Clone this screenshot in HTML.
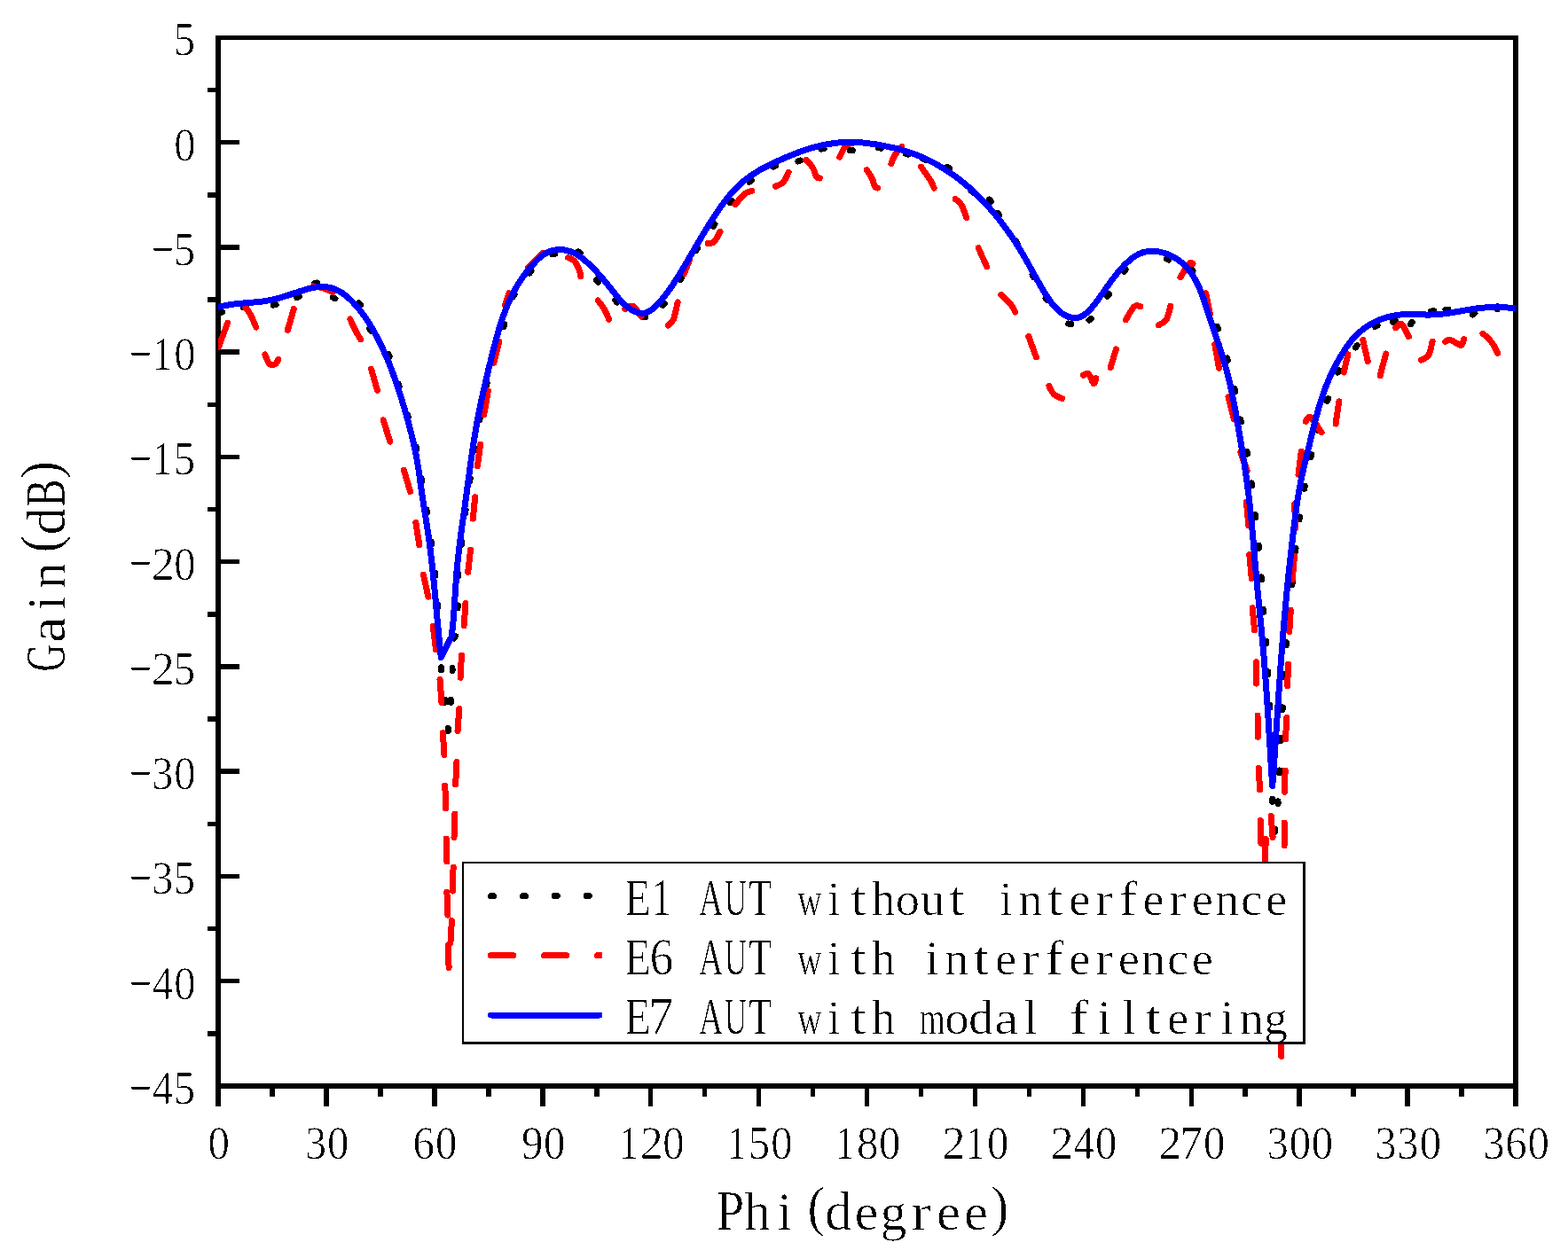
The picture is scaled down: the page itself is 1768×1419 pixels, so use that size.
<!DOCTYPE html>
<html lang="en">
<head>
<meta charset="utf-8">
<title>Gain(dB) vs Phi(degree)</title>
<style>
html,body{margin:0;padding:0;background:#fff;overflow:hidden}
svg{display:block}
text{white-space:pre}
</style>
</head>
<body>
<svg width="1768" height="1419" viewBox="0 0 1768 1419" font-family="'Liberation Serif', 'Noto Serif CJK SC', serif" fill="#000">
<rect width="1768" height="1419" fill="#fff"/>
<filter id="bin" x="-0.05" y="-0.2" width="1.1" height="1.4" color-interpolation-filters="sRGB"><feComponentTransfer><feFuncR type="discrete" tableValues="0 0 1"/><feFuncG type="discrete" tableValues="0 0 1"/><feFuncB type="discrete" tableValues="0 0 1"/></feComponentTransfer></filter>
<g shape-rendering="crispEdges">
<rect x="243" y="40" width="6" height="1208"/>
<rect x="1706" y="40" width="6" height="1208"/>
<rect x="243" y="40" width="1469" height="5"/>
<rect x="243" y="1222" width="1469" height="6"/>
<rect x="304" y="1228" width="6" height="9"/>
<rect x="365" y="1228" width="6" height="20"/>
<rect x="426" y="1228" width="6" height="9"/>
<rect x="487" y="1228" width="6" height="20"/>
<rect x="548" y="1228" width="6" height="9"/>
<rect x="609" y="1228" width="6" height="20"/>
<rect x="670" y="1228" width="6" height="9"/>
<rect x="731" y="1228" width="5" height="20"/>
<rect x="792" y="1228" width="5" height="9"/>
<rect x="853" y="1228" width="5" height="20"/>
<rect x="914" y="1228" width="5" height="9"/>
<rect x="975" y="1228" width="5" height="20"/>
<rect x="1036" y="1228" width="5" height="9"/>
<rect x="1097" y="1228" width="5" height="20"/>
<rect x="1158" y="1228" width="5" height="9"/>
<rect x="1219" y="1228" width="5" height="20"/>
<rect x="1280" y="1228" width="5" height="9"/>
<rect x="1341" y="1228" width="5" height="20"/>
<rect x="1401" y="1228" width="6" height="9"/>
<rect x="1462" y="1228" width="6" height="20"/>
<rect x="1523" y="1228" width="6" height="9"/>
<rect x="1584" y="1228" width="6" height="20"/>
<rect x="1645" y="1228" width="6" height="9"/>
<rect x="234" y="99" width="9" height="5"/>
<rect x="249" y="158" width="21" height="5"/>
<rect x="234" y="217" width="9" height="6"/>
<rect x="249" y="276" width="21" height="6"/>
<rect x="234" y="335" width="9" height="6"/>
<rect x="249" y="394" width="21" height="6"/>
<rect x="234" y="454" width="9" height="5"/>
<rect x="249" y="513" width="21" height="5"/>
<rect x="234" y="572" width="9" height="5"/>
<rect x="249" y="631" width="21" height="5"/>
<rect x="234" y="690" width="9" height="6"/>
<rect x="249" y="749" width="21" height="6"/>
<rect x="234" y="808" width="9" height="6"/>
<rect x="249" y="867" width="21" height="6"/>
<rect x="234" y="927" width="9" height="5"/>
<rect x="249" y="986" width="21" height="5"/>
<rect x="234" y="1045" width="9" height="5"/>
<rect x="249" y="1104" width="21" height="5"/>
<rect x="234" y="1163" width="9" height="6"/>
</g>
<clipPath id="plotclip"><rect x="246" y="40" width="1463.5" height="1188"/></clipPath>
<g clip-path="url(#plotclip)" fill="none" stroke-linecap="round" stroke-linejoin="round" stroke-width="7" shape-rendering="crispEdges">
<path stroke="#000" d="M247.8 352.7 L250.8 351.9 M274.5 346.7 L277.5 346.5 M308.1 344.1 L311.1 343.5 M334.5 335.8 L337.3 334.8 M354.7 319.4 L357.7 319 M375.3 335.5 L377.9 336.9 M404.4 341.9 L406.4 344.1 M416.5 370.5 L418.1 373.1 M437.9 399.3 L439.1 402.1 M449.2 433 L450.2 435.8 M459.5 467.8 L460.3 470.7 M467.8 503.8 L468.5 506.8 M469.1 504 L469.7 507 M475.2 539.6 L475.6 542.6 M481.1 575.3 L481.5 578.2 M486.2 611 L486.6 614 M490.5 646.1 L490.8 649.1 M493.7 681.8 L494 684.8 M512.1 720 L513.5 717.4 M497.6 752.8 L497.6 755.8 M510 753.6 L510 756.6 M501.8 789.3 L501.8 792.3 M508.3 789.3 L508.3 792.3 M505.2 821.5 L505.2 824.5 M516.4 683 L516 686 M516.5 650.2 L516.7 647.2 M520.2 614.5 L520.6 611.5 M524.7 578.4 L525.1 575.5 M529.8 542.8 L530.2 539.8 M534.4 508.2 L534.8 505.3 M541 473.2 L541.5 470.3 M548.5 435 L549.2 432.1 M567.9 368.5 L568.9 365.7 M578.7 334.5 L580.1 331.9 M597.2 308 L599 305.6 M622.9 286.8 L625.9 286.2 M651.9 284 L654.5 285.6 M672.6 315.9 L674.6 318.1 M693.8 338.8 L695.8 341 M724.7 357.9 L727.7 357.7 M747.2 344.4 L749.2 342.2 M767 315.8 L768.6 313.2 M784.8 282.7 L786.4 280.1 M804.3 255.5 L805.9 252.9 M823.2 228.5 L825 226.1 M845 205.3 L847.4 203.5 M871.9 188.1 L874.7 186.7 M899.9 182 L902.7 181 M926.1 168.2 L929.1 167.6 M958.4 169.6 L961.4 169.6 M990.6 166.7 L993.6 167.3 M1021.3 173.4 L1024.1 174.2 M1040.8 179.2 L1043.6 180.4 M1068 188.3 L1070.6 189.9 M1094.9 215 L1097.1 217 M1115.4 225.1 L1117.4 227.3 M1124.8 240.3 L1126.6 242.7 M1145.3 271.5 L1146.9 274.1 M1164.1 310 L1165.5 312.6 M1179.1 336.3 L1180.9 338.7 M1204.8 365 L1207.8 365.6 M1228 361.1 L1230.4 359.3 M1248.7 334.3 L1250.5 331.9 M1267.2 306.2 L1269.2 304 M1287.2 285.1 L1290 284.3 M1315.2 291.8 L1318 293 M1343.2 303.1 L1345 305.5 M1372.5 368.2 L1373.5 371 M1383.6 403.9 L1384.4 406.7 M1392.2 438.6 L1392.8 441.6 M1398.7 473 L1399.3 476 M1406 509.2 L1406.4 512.2 M1411.1 544.9 L1411.5 547.9 M1415.4 580.5 L1415.6 583.5 M1419.3 615.3 L1419.5 618.3 M1422.2 650.9 L1422.4 653.9 M1424.4 687.4 L1424.6 690.4 M1427.3 723.1 L1427.5 726.1 M1429.8 757.9 L1430 760.9 M1431.5 795.2 L1431.7 798.2 M1434.1 830.9 L1434.3 833.9 M1450.2 727.8 L1450.4 724.8 M1447.1 763.5 L1447.3 760.5 M1446 800.8 L1446.2 797.8 M1443.7 835.6 L1443.9 832.6 M1442.6 872 L1442.8 869 M1434.7 901.3 L1434.7 904.3 M1441 903.8 L1441 906.8 M1437.6 935.2 L1437.6 938.2 M1456.9 659.9 L1457.3 656.9 M1460.6 621.7 L1461 618.7 M1465 586 L1465.4 583 M1470.7 551.3 L1471.3 548.3 M1477.9 515.6 L1478.7 512.6 M1484.7 485.1 L1485.5 482.1 M1496.5 452.4 L1497.5 449.6 M1508.3 420.1 L1509.7 417.5 M1528.5 392 L1530.3 389.6 M1550.5 368.6 L1553.1 367.2 M1570.7 363.1 L1573.7 362.5 M1590.5 365.7 L1592.3 363.3 M1613.8 351 L1616.8 350.8 M1629.9 349.4 L1632.9 349 M1660.5 354.9 L1662.9 353.1 M1688.3 345.8 L1688.3 348.8"/>
<path stroke="#f00" d="M246.5 391.3 L256.6 364.2 M276.5 346.4 L277.5 347.7 L279 349.6 L280.7 352 L282.4 354.8 L284.2 358.5 L286.2 363 L288 367.2 L288.8 369.2 M298.9 399.9 L299.5 401.6 L300.4 404 L301.5 406.5 L302.5 408.5 L303.5 409.8 L304.6 410.7 L305.7 411.3 L306.8 411.6 L307.9 411.6 L309.1 411.3 L310.2 410.7 L311.2 410 L312 409 L312.8 407.6 L313.4 406.3 L313.8 405.4 M324.3 372.5 L331.3 348.2 M353.5 322.9 L354.6 323.1 L357.5 323.5 L360.8 324 L364 324.8 L367.2 326 L370.7 327.6 L373.8 329.2 L375.1 329.8 M394.8 360 L395.6 361.8 L397.4 365.7 L399.4 369.9 L401.2 373.5 L402.9 376.6 L404.6 379.5 L406.1 382 L406.6 382.8 M418.5 416.1 L425.5 440.4 M432.1 473.8 L439.9 498.1 M455.4 530.2 L462.5 554.5 M468.9 589.6 L472.8 614.8 M477.4 648.1 L482.9 673.3 M488.3 706.4 L491.5 732.9 M496 766.3 L498 792.3 M499.4 826.6 L500.9 851.7 M501.8 886 L502.7 912 M503.2 946 L503.9 972 M503.9 1006.2 L504.9 1032.2 M505.2 1066.5 L506.1 1091.6 M509.4 1038.5 L507.9 1063.6 M511.1 978.2 L510.3 1005.1 M512.8 918 L512 944.8 M514.9 859.7 L513.7 884.8 M517.8 799.4 L516 824.6 M520.4 739.2 L519.2 764.3 M525 680.4 L523.1 705.8 M530.6 620.1 L527.7 645.3 M535.7 560.8 L533.3 585.1 M541.6 501.4 L538.4 525.7 M550.3 441 L545.7 468 M563 385.1 L556.8 409.4 M574 330.7 L569.5 344.1 M611.8 285.5 L595.4 301.9 M640.5 290.7 L641.8 291.2 L643.6 291.9 L645.6 292.8 L647.3 294.1 L648.8 295.8 L650.1 298 L651.3 300.3 L652.4 302.6 L653.3 305.1 L654 307.8 L654.5 310.2 L654.9 311.9 M674.2 339 L675 340 L677 342.5 L679.2 345.4 L681.2 348.4 L682.9 351.7 L684.6 355.4 L686.1 358.8 L686.7 360.2 M704.9 348.7 L705.8 348.1 L708.1 346.4 L710.8 345 L713.4 345 L716.1 347.3 L719.1 351.1 L721.7 355.1 L723 357 M764.2 340.9 L763.5 343.9 L762.2 349.7 L760.8 355.7 L759.3 360.3 L757.7 363.1 L756 365 L754.4 366.2 L753.3 367.1 M777.5 293.3 L771.5 308.5 M811.9 261.6 L811.1 263.1 L809.3 266.5 L807.2 270 L805.3 272.6 L803.3 273.9 L801.3 274.4 L799.4 274.6 L798.1 274.7 M847.9 215.4 L846.4 215.8 L844.3 216.3 L841.9 217.2 L839.4 218.8 L836.6 221.6 L833.4 225.4 L830.4 229 L829 230.7 M889.1 194.2 L888.5 195.6 L887.1 198.9 L885.4 202.4 L883.5 205.2 L881.2 207.1 L878.5 208.5 L875.9 209.5 L874.2 210.3 M908.8 180.5 L909.5 181.2 L911.6 183.3 L913.9 185.7 L915.8 188.2 L917.3 191 L918.6 194.2 L919.7 197.1 L920.8 199.3 L921.8 200.4 L922.8 200.8 L923.6 200.9 L924.2 201 M946.7 177.2 L947.5 175.6 L949.2 172 L951.1 168.3 L953 165.5 L954.8 163.8 L956.6 162.8 L958.3 162.1 L960 161.5 L961.6 161.1 L963.2 160.9 L964.5 160.8 L965.5 160.8 M977.3 191.6 L978.1 192.8 L980 195.8 L982 199 L983.6 201.8 L984.5 204.3 L985.1 206.6 L985.6 208.7 L986.2 210.3 L987.1 211.2 L988.1 211.7 L989 211.9 L989.6 212 M1016.9 165.2 L1016 166.3 L1013.6 169 L1011.1 171.9 L1009.1 174.7 L1007.6 177.5 L1006.4 180.4 L1005.5 183 L1004.8 184.8 M1038.5 188.2 L1039.9 190.1 L1042.7 194 L1045.7 198.2 L1048.1 201.8 L1049.9 204.9 L1051.3 207.8 L1052.4 210.3 L1053.2 212 M1077.3 224.5 L1078.5 225.5 L1080.3 226.9 L1082.3 228.8 L1084.1 231.3 L1085.8 234.9 L1087.5 239.3 L1089 243.6 L1089.8 245.6 M1103.2 279.7 L1112.6 300.8 M1128.8 332.2 L1130.3 333.6 L1133.5 336.7 L1136.8 340 L1139.5 343 L1141.4 345.6 L1142.8 348.2 L1143.9 350.4 L1144.7 352 M1159.8 379.5 L1168.4 402.9 M1182.8 435.3 L1183.3 436.3 L1184.7 439.1 L1186.3 442.1 L1188.2 444.5 L1190.5 446.2 L1193.3 447.7 L1195.8 448.8 L1197.6 449.6 M1221.3 423.3 L1222.4 422.7 L1223.9 421.8 L1225.7 421.2 L1227.3 421.6 L1228.9 423.9 L1230.5 427.4 L1232 430.8 L1233.2 432.7 L1234.1 432.3 L1234.9 430.4 L1235.4 428.2 L1235.8 426.7 M1258.4 393.8 L1252.2 414.7 M1285.9 345.5 L1284.7 345.2 L1282.9 344.8 L1280.8 344.8 L1278.7 346 L1276.2 349.2 L1273.4 353.8 L1270.8 358.4 L1269.5 360.7 M1319.7 345.3 L1319.2 347.4 L1318.1 351.9 L1316.8 356.7 L1315.2 360.4 L1313 362.8 L1310.4 364.6 L1307.9 365.9 L1306.2 366.8 M1345 297.5 L1344.4 297.1 L1343.5 296.5 L1342.3 296.4 L1340.7 297.5 L1338.3 300.8 L1335.3 305.6 L1332.5 310.3 L1331 312.7 M1359.6 330.8 L1364.3 354.2 M1369.8 388.5 L1374.5 415.3 M1385 447.8 L1391.4 473 M1398.8 509.9 L1406.2 531.1 M1405.4 566 L1407.8 592.9 M1408.8 625.4 L1411.2 652.3 M1412.2 685.7 L1414.6 710.9 M1416.4 746.8 L1416.7 771.1 M1418 807 L1418.4 831.4 M1419.3 866.5 L1420.5 890.8 M1421.4 925.5 L1421.9 951.2 M1427.3 946.5 L1426.4 971 M1433.2 920.5 L1435.1 944.5 M1444.2 1171 L1444.6 1191.5 M1448.1 928 L1448.1 953.8 M1449.1 869 L1448.6 893.3 M1450.8 809.6 L1449.5 833.9 M1452.5 749.4 L1451.7 773.7 M1455.3 688.2 L1453.8 712.6 M1459.5 627.1 L1457.2 654 M1459.6 568.6 L1460.8 595.4 M1467.2 509.2 L1464 535.2 M1472.2 475.4 L1473.1 474 L1474.3 472 L1475.9 470.5 L1478 470.8 L1480.9 474.1 L1484.6 479.4 L1488.1 484.9 L1490 487.8 M1509.8 452.9 L1506.1 478 M1519.8 399.8 L1515.2 420 M1536.7 383.3 L1542.3 407.6 M1562.6 399 L1556.2 423.7 M1573.6 369.8 L1574.8 368.5 L1576.4 366.6 L1578.3 365.1 L1580.3 365.3 L1582.5 368.1 L1585 372.7 L1587.2 377.4 L1588.4 379.7 M1615.1 385 L1614.6 387.1 L1613.7 391.7 L1612.5 396.4 L1611 400.1 L1609 402.5 L1606.5 404.1 L1604.1 405.3 L1602.5 406.1 M1629.6 385.4 L1630.4 384.9 L1631.5 384 L1632.9 383.4 L1634.5 383.2 L1636.5 383.9 L1638.7 385 L1641 386.4 L1643 387.4 L1644.5 388.3 L1645.9 389.1 L1647 389.6 L1648 389.4 L1648.9 388.1 L1649.7 386.1 L1650.3 383.9 L1650.8 382.5 M1672 376.2 L1673.4 377.4 L1676.4 380.2 L1679.6 383.4 L1682.3 386.5 L1684.5 389.9 L1686.4 393.6 L1688 397 L1688.7 398.4"/>
<path stroke="#00f" d="M246.1 346.5 L249 345.7 L252 345 L254.9 344.4 L257.9 343.9 L260.9 343.4 L263.9 343 L266.9 342.7 L269.9 342.4 L272.9 342.1 L275.9 341.9 L278.9 341.6 L281.9 341.4 L284.9 341.1 L287.9 340.9 L290.9 340.6 L293.9 340.2 L296.9 339.9 L299.8 339.4 L302.8 338.9 L305.7 338.3 L308.6 337.7 L311.5 337 L314.4 336.2 L317.3 335.4 L320.2 334.5 L323.1 333.6 L326 332.7 L328.9 331.7 L331.8 330.7 L334.7 329.8 L337.6 328.8 L340.6 327.9 L343.5 327 L346.5 326.1 L349.4 325.3 L352.4 324.7 L355.3 324.1 L358.3 323.7 L361.2 323.5 L364.2 323.5 L367.1 323.7 L369.9 324 L372.7 324.6 L375.5 325.4 L378.3 326.4 L380.9 327.7 L383.5 329.1 L386 330.6 L388.5 332.4 L390.9 334.3 L393.2 336.3 L395.4 338.4 L397.6 340.6 L399.7 342.8 L401.8 345.1 L403.8 347.4 L405.7 349.8 L407.6 352.2 L409.4 354.7 L411.2 357.1 L412.9 359.6 L414.5 362.1 L416.2 364.7 L417.8 367.3 L419.3 369.9 L420.8 372.5 L422.3 375.1 L423.7 377.7 L425.2 380.4 L426.5 383 L427.9 385.7 L429.2 388.4 L430.5 391.1 L431.8 393.8 L433 396.6 L434.3 399.3 L435.5 402.1 L436.6 404.8 L437.8 407.6 L438.9 410.4 L440 413.2 L441.1 416 L442.2 418.8 L443.2 421.6 L444.2 424.4 L445.2 427.3 L446.2 430.1 L447.2 433 L448.2 435.8 L449.1 438.7 L450.1 441.6 L451 444.4 L451.9 447.3 L452.8 450.2 L453.7 453.1 L454.6 455.9 L455.4 458.8 L456.3 461.7 L457.1 464.6 L458 467.5 L458.8 470.4 L459.6 473.3 L460.4 476.2 L461.2 479.1 L462 482.1 L462.7 485 L463.5 487.9 L464.2 490.8 L464.9 493.7 L465.6 496.7 L466.3 499.6 L466.9 502.6 L467.5 505.5 L468.2 508.4 L468.8 511.4 L469.3 514.3 L469.9 517.3 L470.4 520.3 L470.9 523.2 L471.4 526.2 L471.9 529.2 L472.3 532.2 L472.8 535.1 L473.2 538.1 L473.6 541.1 L474 544.1 L474.4 547.1 L474.8 550.1 L475.3 553.1 L475.7 556 L476.1 559 L476.5 562 L477 565 L477.4 568 L477.9 570.9 L478.4 573.9 L478.8 576.9 L479.3 579.9 L479.8 582.8 L480.3 585.8 L480.7 588.8 L481.2 591.8 L481.7 594.7 L482.1 597.7 L482.6 600.7 L483 603.7 L483.4 606.7 L483.9 609.6 L484.3 612.6 L484.7 615.6 L485 618.6 L485.4 621.6 L485.8 624.6 L486.1 627.6 L486.5 630.6 L486.8 633.5 L487.1 636.5 L487.5 639.5 L487.8 642.5 L488.1 645.5 L488.4 648.5 L488.7 651.5 L489 654.5 L489.3 657.5 L489.6 660.5 L489.9 663.5 L490.1 666.5 L490.4 669.5 L490.7 672.5 L491 675.5 L491.3 678.5 L491.5 681.5 L491.8 684.5 L492.1 687.5 L492.3 690.5 L492.6 693.5 L492.9 696.5 L493.1 699.5 L493.4 702.5 L493.7 705.5 L494 708.5 L494.3 711.5 L494.5 714.5 L494.8 717.5 L495.1 720.5 L495.4 723.5 L495.7 726.5 L496 729.5 L496.3 732.5 L496.7 735.5 L497 738.5 L497.3 741.5 L509.3 717.8 L509.6 714.8 L509.9 711.8 L510.2 708.8 L510.5 705.9 L510.8 702.9 L511.1 699.9 L511.3 696.9 L511.5 693.9 L511.8 690.9 L512 687.9 L512.2 684.9 L512.4 681.9 L512.6 678.9 L512.8 675.9 L513 672.9 L513.2 669.9 L513.4 666.9 L513.6 663.9 L513.8 660.9 L514 657.9 L514.2 654.9 L514.4 651.9 L514.7 648.9 L514.9 645.9 L515.2 642.9 L515.4 639.9 L515.7 636.9 L516 633.9 L516.3 631 L516.6 628 L517 625 L517.3 622 L517.7 619 L518 616.1 L518.4 613.1 L518.8 610.1 L519.1 607.1 L519.5 604.2 L519.9 601.2 L520.3 598.2 L520.7 595.2 L521.1 592.3 L521.6 589.3 L522 586.3 L522.4 583.3 L522.8 580.4 L523.2 577.4 L523.6 574.4 L524.1 571.4 L524.5 568.5 L524.9 565.5 L525.3 562.5 L525.7 559.5 L526.1 556.6 L526.5 553.6 L526.9 550.6 L527.3 547.6 L527.7 544.6 L528.1 541.7 L528.5 538.7 L528.9 535.7 L529.3 532.7 L529.7 529.7 L530.1 526.8 L530.5 523.8 L530.9 520.8 L531.3 517.8 L531.8 514.8 L532.2 511.9 L532.6 508.9 L533 505.9 L533.5 502.9 L533.9 500 L534.4 497 L534.9 494 L535.4 491.1 L535.9 488.1 L536.4 485.2 L536.9 482.2 L537.4 479.3 L537.9 476.3 L538.5 473.4 L539 470.4 L539.6 467.5 L540.2 464.5 L540.8 461.6 L541.4 458.7 L542 455.7 L542.6 452.8 L543.2 449.9 L543.9 446.9 L544.5 444 L545.2 441.1 L545.8 438.1 L546.5 435.2 L547.2 432.3 L547.8 429.4 L548.5 426.4 L549.2 423.5 L549.9 420.6 L550.6 417.7 L551.3 414.7 L552 411.8 L552.8 408.9 L553.5 406 L554.2 403 L554.9 400.1 L555.7 397.2 L556.4 394.3 L557.1 391.3 L557.9 388.4 L558.7 385.5 L559.4 382.6 L560.2 379.7 L561.1 376.8 L561.9 373.9 L562.7 371 L563.6 368.1 L564.5 365.3 L565.4 362.4 L566.4 359.6 L567.4 356.7 L568.4 353.9 L569.4 351.1 L570.5 348.3 L571.6 345.6 L572.8 342.8 L574 340.1 L575.2 337.4 L576.5 334.7 L577.8 332 L579.2 329.3 L580.6 326.7 L582.1 324.1 L583.6 321.5 L585.2 319 L586.8 316.5 L588.5 314 L590.3 311.5 L592.1 309 L593.9 306.6 L595.8 304.3 L597.7 301.9 L599.7 299.6 L601.8 297.4 L603.9 295.1 L606 293 L608.2 290.9 L610.5 289 L612.9 287.3 L615.4 285.7 L618 284.3 L620.7 283.2 L623.6 282.4 L626.5 281.9 L629.6 281.6 L632.6 281.6 L635.7 281.9 L638.7 282.4 L641.6 283.2 L644.5 284.2 L647.2 285.4 L649.9 286.8 L652.4 288.4 L654.9 290.1 L657.3 291.9 L659.6 293.9 L661.9 295.9 L664.1 297.9 L666.3 300 L668.4 302.1 L670.5 304.2 L672.5 306.4 L674.5 308.6 L676.5 310.8 L678.5 313.1 L680.4 315.3 L682.4 317.6 L684.3 319.9 L686.2 322.3 L688 324.6 L689.9 327 L691.8 329.4 L693.7 331.7 L695.6 334.1 L697.5 336.5 L699.5 338.7 L701.5 341 L703.7 343.1 L705.9 345.1 L708.3 347 L710.8 348.7 L713.5 350.3 L716.3 351.6 L719.2 352.5 L722 353.1 L724.9 353.3 L727.6 352.9 L730.3 352 L732.8 350.6 L735.2 348.9 L737.5 346.9 L739.8 344.7 L742 342.5 L744.1 340.2 L746.1 337.9 L748.1 335.6 L750 333.2 L751.8 330.8 L753.6 328.3 L755.4 325.9 L757.1 323.4 L758.8 320.9 L760.4 318.4 L762 315.9 L763.6 313.4 L765.2 310.8 L766.8 308.3 L768.3 305.7 L769.9 303.2 L771.4 300.6 L772.9 298 L774.5 295.5 L776 292.9 L777.5 290.3 L779 287.7 L780.5 285.1 L782 282.5 L783.5 280 L785 277.4 L786.5 274.8 L788.1 272.2 L789.6 269.6 L791.1 267.1 L792.6 264.5 L794.2 261.9 L795.7 259.3 L797.3 256.8 L798.9 254.2 L800.5 251.7 L802.1 249.1 L803.7 246.6 L805.4 244.1 L807.1 241.6 L808.8 239.1 L810.5 236.6 L812.2 234.1 L814 231.6 L815.8 229.2 L817.6 226.8 L819.4 224.4 L821.3 222 L823.2 219.7 L825.2 217.4 L827.2 215.2 L829.3 213 L831.4 210.9 L833.5 208.8 L835.7 206.8 L838 204.8 L840.3 202.9 L842.6 201.1 L845 199.4 L847.5 197.7 L850 196 L852.5 194.4 L855.1 192.8 L857.6 191.3 L860.3 189.9 L862.9 188.4 L865.6 187.1 L868.3 185.7 L871 184.4 L873.7 183.1 L876.5 181.8 L879.2 180.6 L882 179.4 L884.8 178.2 L887.5 177 L890.3 175.8 L893.1 174.7 L895.9 173.6 L898.7 172.5 L901.5 171.5 L904.3 170.5 L907.2 169.5 L910 168.5 L912.9 167.6 L915.7 166.8 L918.6 166 L921.5 165.2 L924.4 164.5 L927.4 163.8 L930.3 163.2 L933.3 162.7 L936.2 162.2 L939.2 161.7 L942.2 161.3 L945.2 161 L948.2 160.7 L951.1 160.5 L954.1 160.4 L957.1 160.3 L960.1 160.3 L963.1 160.4 L966.1 160.5 L969.1 160.7 L972.1 160.9 L975.1 161.2 L978.1 161.6 L981.1 162 L984 162.4 L987 162.8 L990 163.3 L993 163.9 L995.9 164.4 L998.9 165 L1001.8 165.6 L1004.8 166.2 L1007.7 166.9 L1010.6 167.6 L1013.5 168.3 L1016.4 169.1 L1019.3 169.9 L1022.2 170.8 L1025 171.7 L1027.9 172.7 L1030.7 173.7 L1033.5 174.7 L1036.3 175.9 L1039.1 177 L1041.8 178.2 L1044.5 179.5 L1047.2 180.8 L1049.9 182.1 L1052.6 183.5 L1055.2 185 L1057.9 186.5 L1060.4 188 L1063 189.5 L1065.6 191.1 L1068.1 192.8 L1070.6 194.4 L1073.1 196.1 L1075.5 197.9 L1077.9 199.6 L1080.3 201.4 L1082.7 203.3 L1085.1 205.2 L1087.4 207 L1089.7 209 L1092 210.9 L1094.2 212.9 L1096.4 214.9 L1098.6 217 L1100.8 219 L1103 221.1 L1105.1 223.3 L1107.2 225.4 L1109.3 227.6 L1111.3 229.8 L1113.4 232 L1115.4 234.2 L1117.4 236.5 L1119.3 238.7 L1121.3 241 L1123.2 243.4 L1125.1 245.7 L1126.9 248.1 L1128.8 250.4 L1130.6 252.8 L1132.4 255.2 L1134.2 257.7 L1136 260.1 L1137.7 262.6 L1139.4 265 L1141.1 267.5 L1142.8 270 L1144.4 272.5 L1146.1 275.1 L1147.7 277.6 L1149.2 280.1 L1150.8 282.7 L1152.4 285.2 L1153.9 287.8 L1155.4 290.4 L1156.9 293 L1158.3 295.6 L1159.8 298.2 L1161.2 300.8 L1162.7 303.4 L1164.1 306 L1165.5 308.6 L1167 311.2 L1168.4 313.8 L1169.9 316.5 L1171.4 319.1 L1172.9 321.7 L1174.4 324.3 L1175.9 326.9 L1177.5 329.5 L1179.1 332.1 L1180.8 334.7 L1182.5 337.3 L1184.3 339.8 L1186.1 342.3 L1188.1 344.7 L1190.1 346.9 L1192.2 349.1 L1194.4 351.1 L1196.7 352.9 L1199.2 354.5 L1201.8 356 L1204.5 357.2 L1207.3 358.1 L1210.2 358.6 L1213.1 358.6 L1215.9 358.1 L1218.7 357.2 L1221.4 355.8 L1223.9 354.1 L1226.2 352.2 L1228.4 350 L1230.5 347.7 L1232.5 345.3 L1234.4 342.9 L1236.3 340.4 L1238.1 338 L1239.8 335.5 L1241.6 333.1 L1243.3 330.7 L1245 328.2 L1246.7 325.8 L1248.4 323.4 L1250.1 321 L1251.8 318.7 L1253.5 316.3 L1255.3 313.9 L1257.2 311.5 L1259 309.2 L1260.9 306.8 L1262.9 304.4 L1265 302.1 L1267.1 299.8 L1269.3 297.6 L1271.5 295.5 L1273.8 293.5 L1276.2 291.6 L1278.6 289.8 L1281.1 288.2 L1283.7 286.8 L1286.3 285.7 L1289.1 284.7 L1291.9 284 L1294.7 283.5 L1297.6 283.3 L1300.6 283.3 L1303.6 283.5 L1306.5 283.9 L1309.5 284.6 L1312.5 285.4 L1315.4 286.4 L1318.3 287.6 L1321.1 288.9 L1323.9 290.3 L1326.5 291.9 L1329.1 293.7 L1331.5 295.5 L1333.8 297.4 L1336 299.5 L1338 301.6 L1340 303.8 L1341.8 306.1 L1343.5 308.5 L1345.1 310.9 L1346.6 313.5 L1348.1 316 L1349.4 318.6 L1350.7 321.3 L1352 324 L1353.1 326.8 L1354.2 329.6 L1355.3 332.4 L1356.4 335.3 L1357.4 338.2 L1358.3 341 L1359.3 343.9 L1360.2 346.8 L1361.2 349.8 L1362.1 352.6 L1363.1 355.5 L1364 358.4 L1365 361.3 L1366 364.1 L1366.9 367 L1367.9 369.9 L1368.9 372.7 L1369.8 375.5 L1370.8 378.4 L1371.7 381.2 L1372.7 384.1 L1373.6 386.9 L1374.6 389.7 L1375.5 392.6 L1376.4 395.4 L1377.3 398.3 L1378.2 401.1 L1379.1 403.9 L1379.9 406.8 L1380.8 409.7 L1381.6 412.5 L1382.4 415.4 L1383.2 418.3 L1383.9 421.1 L1384.7 424 L1385.4 426.9 L1386.1 429.9 L1386.8 432.8 L1387.4 435.7 L1388.1 438.6 L1388.7 441.6 L1389.3 444.5 L1389.9 447.5 L1390.5 450.4 L1391.1 453.4 L1391.6 456.3 L1392.2 459.3 L1392.7 462.3 L1393.3 465.2 L1393.8 468.2 L1394.3 471.2 L1394.8 474.1 L1395.4 477.1 L1395.9 480.1 L1396.4 483.1 L1396.9 486 L1397.4 489 L1397.9 492 L1398.4 494.9 L1398.9 497.9 L1399.4 500.9 L1399.9 503.8 L1400.4 506.8 L1400.9 509.8 L1401.3 512.7 L1401.8 515.7 L1402.3 518.6 L1402.8 521.6 L1403.2 524.6 L1403.7 527.5 L1404.1 530.5 L1404.6 533.5 L1405 536.4 L1405.4 539.4 L1405.8 542.4 L1406.2 545.3 L1406.6 548.3 L1407 551.3 L1407.4 554.3 L1407.8 557.2 L1408.1 560.2 L1408.5 563.2 L1408.8 566.2 L1409.2 569.2 L1409.5 572.1 L1409.8 575.1 L1410.1 578.1 L1410.4 581.1 L1410.7 584.1 L1411 587.1 L1411.3 590.1 L1411.6 593.1 L1411.9 596.1 L1412.1 599 L1412.4 602 L1412.6 605 L1412.9 608 L1413.2 611 L1413.4 614 L1413.7 617 L1413.9 620 L1414.2 623 L1414.4 626 L1414.7 629 L1414.9 632 L1415.2 635 L1415.5 638 L1415.7 641 L1416 644 L1416.3 647 L1416.5 650 L1416.8 652.9 L1417.1 655.9 L1417.4 658.9 L1417.7 661.9 L1417.9 664.9 L1418.2 667.9 L1418.5 670.9 L1418.8 673.9 L1419.1 676.9 L1419.4 679.9 L1419.7 682.8 L1420 685.8 L1420.3 688.8 L1420.5 691.8 L1420.8 694.8 L1421.1 697.8 L1421.4 700.8 L1421.7 703.8 L1422 706.7 L1422.3 709.7 L1422.6 712.7 L1422.8 715.7 L1423.1 718.7 L1423.4 721.7 L1423.7 724.7 L1423.9 727.7 L1424.2 730.7 L1424.4 733.6 L1424.7 736.6 L1425 739.6 L1425.2 742.6 L1425.4 745.6 L1425.7 748.6 L1425.9 751.6 L1426.2 754.6 L1426.4 757.6 L1426.6 760.6 L1426.8 763.6 L1427.1 766.6 L1427.3 769.6 L1427.5 772.6 L1427.7 775.6 L1427.9 778.6 L1428.1 781.6 L1428.3 784.6 L1428.5 787.6 L1428.7 790.6 L1428.9 793.6 L1429.1 796.6 L1429.3 799.6 L1429.5 802.6 L1429.7 805.6 L1429.9 808.5 L1430.1 811.5 L1430.3 814.5 L1430.4 817.5 L1430.6 820.5 L1430.8 823.5 L1431 826.5 L1431.2 829.5 L1431.4 832.5 L1431.5 835.5 L1431.7 838.5 L1431.9 841.5 L1432.1 844.5 L1432.3 847.5 L1432.5 850.5 L1432.6 853.5 L1432.8 856.5 L1433 859.5 L1433.2 862.5 L1433.4 865.5 L1433.6 868.5 L1433.8 871.5 L1433.9 874.5 L1434.1 877.5 L1434.3 880.5 L1434.5 883.5 L1434.7 886.5 L1435 883.5 L1435.2 880.5 L1435.4 877.5 L1435.6 874.5 L1435.8 871.5 L1436.1 868.5 L1436.3 865.5 L1436.5 862.5 L1436.7 859.5 L1436.9 856.5 L1437.1 853.5 L1437.3 850.5 L1437.5 847.5 L1437.7 844.5 L1437.9 841.5 L1438.1 838.5 L1438.3 835.5 L1438.5 832.5 L1438.7 829.5 L1438.9 826.5 L1439.1 823.5 L1439.3 820.5 L1439.5 817.5 L1439.7 814.5 L1439.9 811.5 L1440.1 808.5 L1440.3 805.5 L1440.5 802.5 L1440.7 799.5 L1440.9 796.5 L1441.1 793.5 L1441.3 790.5 L1441.5 787.5 L1441.7 784.4 L1441.9 781.4 L1442.1 778.4 L1442.3 775.4 L1442.6 772.4 L1442.8 769.4 L1443 766.4 L1443.2 763.4 L1443.4 760.4 L1443.6 757.4 L1443.8 754.4 L1444 751.4 L1444.3 748.4 L1444.5 745.4 L1444.7 742.4 L1444.9 739.4 L1445.1 736.4 L1445.4 733.4 L1445.6 730.4 L1445.8 727.4 L1446.1 724.4 L1446.3 721.4 L1446.5 718.4 L1446.8 715.4 L1447 712.4 L1447.3 709.4 L1447.5 706.4 L1447.8 703.5 L1448 700.5 L1448.3 697.5 L1448.5 694.5 L1448.8 691.5 L1449.1 688.5 L1449.3 685.5 L1449.6 682.5 L1449.9 679.5 L1450.2 676.5 L1450.4 673.5 L1450.7 670.5 L1451 667.5 L1451.3 664.5 L1451.6 661.5 L1451.9 658.5 L1452.2 655.5 L1452.5 652.5 L1452.8 649.5 L1453.1 646.6 L1453.5 643.6 L1453.8 640.6 L1454.1 637.6 L1454.4 634.6 L1454.7 631.6 L1455.1 628.6 L1455.4 625.6 L1455.7 622.6 L1456.1 619.6 L1456.4 616.6 L1456.8 613.7 L1457.1 610.7 L1457.4 607.7 L1457.8 604.7 L1458.1 601.7 L1458.5 598.7 L1458.9 595.7 L1459.2 592.7 L1459.6 589.7 L1459.9 586.8 L1460.3 583.8 L1460.7 580.8 L1461.1 577.8 L1461.5 574.8 L1461.9 571.8 L1462.4 568.9 L1462.8 565.9 L1463.2 562.9 L1463.7 559.9 L1464.2 557 L1464.7 554 L1465.2 551.1 L1465.8 548.1 L1466.3 545.1 L1466.9 542.2 L1467.5 539.3 L1468.1 536.3 L1468.8 533.4 L1469.4 530.4 L1470.1 527.5 L1470.8 524.6 L1471.5 521.7 L1472.2 518.7 L1472.9 515.8 L1473.6 512.9 L1474.3 510 L1475 507 L1475.8 504.1 L1476.5 501.2 L1477.2 498.3 L1477.9 495.3 L1478.6 492.4 L1479.3 489.5 L1480 486.5 L1480.7 483.6 L1481.5 480.7 L1482.2 477.8 L1482.9 474.9 L1483.7 471.9 L1484.5 469 L1485.3 466.1 L1486.1 463.2 L1486.9 460.3 L1487.7 457.5 L1488.6 454.6 L1489.5 451.7 L1490.4 448.9 L1491.4 446 L1492.4 443.2 L1493.4 440.4 L1494.4 437.6 L1495.5 434.8 L1496.7 432 L1497.8 429.2 L1499 426.4 L1500.3 423.7 L1501.5 421 L1502.9 418.3 L1504.2 415.6 L1505.6 412.9 L1507 410.2 L1508.5 407.6 L1509.9 404.9 L1511.5 402.3 L1513 399.7 L1514.6 397.2 L1516.2 394.6 L1517.9 392.1 L1519.6 389.7 L1521.4 387.2 L1523.2 384.9 L1525.2 382.6 L1527.2 380.3 L1529.3 378.2 L1531.4 376.1 L1533.7 374.1 L1536 372.2 L1538.4 370.3 L1540.9 368.6 L1543.4 366.9 L1546 365.4 L1548.6 363.9 L1551.3 362.6 L1554.1 361.4 L1556.9 360.2 L1559.7 359.2 L1562.6 358.3 L1565.5 357.5 L1568.4 356.8 L1571.3 356.1 L1574.3 355.6 L1577.3 355.2 L1580.3 354.9 L1583.3 354.7 L1586.3 354.5 L1589.3 354.5 L1592.4 354.5 L1595.4 354.6 L1598.4 354.7 L1601.4 354.8 L1604.4 354.9 L1607.4 355 L1610.4 355 L1613.4 355 L1616.4 354.9 L1619.4 354.7 L1622.4 354.5 L1625.4 354.2 L1628.4 353.9 L1631.3 353.5 L1634.3 353.1 L1637.3 352.6 L1640.2 352.1 L1643.2 351.6 L1646.2 351.1 L1649.1 350.6 L1652.1 350 L1655 349.5 L1658 349 L1661 348.5 L1663.9 348.1 L1666.9 347.7 L1669.9 347.4 L1672.9 347.1 L1675.9 346.9 L1678.9 346.8 L1681.9 346.7 L1684.9 346.7 L1687.9 346.7 L1690.9 346.7 L1693.9 346.8 L1696.9 346.9 L1700 347 L1703 347.1 L1706 347.2 L1709 347.2"/>
</g>
<rect x="521" y="972" width="951" height="206" fill="#fff" shape-rendering="crispEdges"/>
<clipPath id="legclip"><rect x="549.8" y="1000" width="129" height="160"/></clipPath>
<g clip-path="url(#legclip)" fill="none" stroke-linecap="round" stroke-width="7" shape-rendering="crispEdges">
<path stroke="#000" d="M553.5 1010.5h3 M589.5 1010.5h3 M625.3 1010.5h3 M661.2 1010.5h3"/>
<path stroke="#f00" d="M553.3 1077.7h25.4 M613.4 1077.7h25.4 M673.4 1077.7h25.4"/>
<path stroke="#00f" d="M553.5 1145h122.5"/>
</g>
<text y="1032.2" font-size="56.2" stroke="#fff" stroke-width="0.9" filter="url(#bin)"><tspan x="704.4" textLength="29.7" lengthAdjust="spacingAndGlyphs">E</tspan><tspan x="733.7" font-size="58.2" textLength="24.1" lengthAdjust="spacingAndGlyphs">1</tspan><tspan x="760.3"> </tspan><tspan x="788.1" textLength="27.3" lengthAdjust="spacingAndGlyphs">A</tspan><tspan x="816.6" textLength="26" lengthAdjust="spacingAndGlyphs">U</tspan><tspan x="844.3" textLength="25.9" lengthAdjust="spacingAndGlyphs">T</tspan><tspan x="871.1"> </tspan><tspan x="898.9" font-size="52.5" textLength="27.7" lengthAdjust="spacingAndGlyphs">w</tspan><tspan x="932.8" font-size="54.2" textLength="15.1" lengthAdjust="spacingAndGlyphs">i</tspan><tspan x="959.1" font-size="54.2" textLength="17.8" lengthAdjust="spacingAndGlyphs">t</tspan><tspan x="982.4" font-size="54.2" textLength="27.1" lengthAdjust="spacingAndGlyphs">h</tspan><tspan x="1009.8" font-size="52.5" textLength="27.3" lengthAdjust="spacingAndGlyphs">o</tspan><tspan x="1037.7" font-size="52.5" textLength="27.3" lengthAdjust="spacingAndGlyphs">u</tspan><tspan x="1069.9" font-size="54.2" textLength="17.8" lengthAdjust="spacingAndGlyphs">t</tspan><tspan x="1092.8"> </tspan><tspan x="1126.8" font-size="54.2" textLength="15.1" lengthAdjust="spacingAndGlyphs">i</tspan><tspan x="1148.2" font-size="52.5" textLength="27.3" lengthAdjust="spacingAndGlyphs">n</tspan><tspan x="1180.8" font-size="54.2" textLength="17.8" lengthAdjust="spacingAndGlyphs">t</tspan><tspan x="1205.2" font-size="52.5" textLength="24.3" lengthAdjust="spacingAndGlyphs">e</tspan><tspan x="1234.5" font-size="52.5" textLength="20.6" lengthAdjust="spacingAndGlyphs">r</tspan><tspan x="1261.3" font-size="54.2" textLength="21.3" lengthAdjust="spacingAndGlyphs">f</tspan><tspan x="1288.4" font-size="52.5" textLength="24.3" lengthAdjust="spacingAndGlyphs">e</tspan><tspan x="1317.6" font-size="52.5" textLength="20.6" lengthAdjust="spacingAndGlyphs">r</tspan><tspan x="1343.8" font-size="52.5" textLength="24.3" lengthAdjust="spacingAndGlyphs">e</tspan><tspan x="1369.9" font-size="52.5" textLength="27.3" lengthAdjust="spacingAndGlyphs">n</tspan><tspan x="1399.1" font-size="52.5" textLength="24.3" lengthAdjust="spacingAndGlyphs">c</tspan><tspan x="1426.9" font-size="52.5" textLength="24.3" lengthAdjust="spacingAndGlyphs">e</tspan></text>
<text y="1099.3" font-size="56.2" stroke="#fff" stroke-width="0.9" filter="url(#bin)"><tspan x="704.4" textLength="29.7" lengthAdjust="spacingAndGlyphs">E</tspan><tspan x="732.6" font-size="58.2" textLength="27" lengthAdjust="spacingAndGlyphs">6</tspan><tspan x="760.3"> </tspan><tspan x="788.1" textLength="27.3" lengthAdjust="spacingAndGlyphs">A</tspan><tspan x="816.6" textLength="26" lengthAdjust="spacingAndGlyphs">U</tspan><tspan x="844.3" textLength="25.9" lengthAdjust="spacingAndGlyphs">T</tspan><tspan x="871.1"> </tspan><tspan x="898.9" font-size="52.5" textLength="27.7" lengthAdjust="spacingAndGlyphs">w</tspan><tspan x="932.8" font-size="54.2" textLength="15.1" lengthAdjust="spacingAndGlyphs">i</tspan><tspan x="959.1" font-size="54.2" textLength="17.8" lengthAdjust="spacingAndGlyphs">t</tspan><tspan x="982.4" font-size="54.2" textLength="27.1" lengthAdjust="spacingAndGlyphs">h</tspan><tspan x="1009.7"> </tspan><tspan x="1043.6" font-size="54.2" textLength="15.1" lengthAdjust="spacingAndGlyphs">i</tspan><tspan x="1065.1" font-size="52.5" textLength="27.3" lengthAdjust="spacingAndGlyphs">n</tspan><tspan x="1097.6" font-size="54.2" textLength="17.8" lengthAdjust="spacingAndGlyphs">t</tspan><tspan x="1122.1" font-size="52.5" textLength="24.3" lengthAdjust="spacingAndGlyphs">e</tspan><tspan x="1151.4" font-size="52.5" textLength="20.6" lengthAdjust="spacingAndGlyphs">r</tspan><tspan x="1178.1" font-size="54.2" textLength="21.3" lengthAdjust="spacingAndGlyphs">f</tspan><tspan x="1205.2" font-size="52.5" textLength="24.3" lengthAdjust="spacingAndGlyphs">e</tspan><tspan x="1234.5" font-size="52.5" textLength="20.6" lengthAdjust="spacingAndGlyphs">r</tspan><tspan x="1260.7" font-size="52.5" textLength="24.3" lengthAdjust="spacingAndGlyphs">e</tspan><tspan x="1286.7" font-size="52.5" textLength="27.3" lengthAdjust="spacingAndGlyphs">n</tspan><tspan x="1316" font-size="52.5" textLength="24.3" lengthAdjust="spacingAndGlyphs">c</tspan><tspan x="1343.8" font-size="52.5" textLength="24.3" lengthAdjust="spacingAndGlyphs">e</tspan></text>
<text y="1166.4" font-size="56.2" stroke="#fff" stroke-width="0.9" filter="url(#bin)"><tspan x="704.4" textLength="29.7" lengthAdjust="spacingAndGlyphs">E</tspan><tspan x="731.1" font-size="58.2" textLength="28.5" lengthAdjust="spacingAndGlyphs">7</tspan><tspan x="760.3"> </tspan><tspan x="788.1" textLength="27.3" lengthAdjust="spacingAndGlyphs">A</tspan><tspan x="816.6" textLength="26" lengthAdjust="spacingAndGlyphs">U</tspan><tspan x="844.3" textLength="25.9" lengthAdjust="spacingAndGlyphs">T</tspan><tspan x="871.1"> </tspan><tspan x="898.9" font-size="52.5" textLength="27.7" lengthAdjust="spacingAndGlyphs">w</tspan><tspan x="932.8" font-size="54.2" textLength="15.1" lengthAdjust="spacingAndGlyphs">i</tspan><tspan x="959.1" font-size="54.2" textLength="17.8" lengthAdjust="spacingAndGlyphs">t</tspan><tspan x="982.4" font-size="54.2" textLength="27.1" lengthAdjust="spacingAndGlyphs">h</tspan><tspan x="1009.7"> </tspan><tspan x="1036.7" font-size="52.5" textLength="28.9" lengthAdjust="spacingAndGlyphs">m</tspan><tspan x="1065.3" font-size="52.5" textLength="27.3" lengthAdjust="spacingAndGlyphs">o</tspan><tspan x="1092" font-size="54.2" textLength="28" lengthAdjust="spacingAndGlyphs">d</tspan><tspan x="1121.2" font-size="52.5" textLength="27.2" lengthAdjust="spacingAndGlyphs">a</tspan><tspan x="1154.5" font-size="54.2" textLength="15.1" lengthAdjust="spacingAndGlyphs">l</tspan><tspan x="1175.9"> </tspan><tspan x="1205.8" font-size="54.2" textLength="21.3" lengthAdjust="spacingAndGlyphs">f</tspan><tspan x="1237.6" font-size="54.2" textLength="15.1" lengthAdjust="spacingAndGlyphs">i</tspan><tspan x="1265.4" font-size="54.2" textLength="15.1" lengthAdjust="spacingAndGlyphs">l</tspan><tspan x="1291.6" font-size="54.2" textLength="17.8" lengthAdjust="spacingAndGlyphs">t</tspan><tspan x="1316.1" font-size="52.5" textLength="24.3" lengthAdjust="spacingAndGlyphs">e</tspan><tspan x="1345.4" font-size="52.5" textLength="20.6" lengthAdjust="spacingAndGlyphs">r</tspan><tspan x="1376.2" font-size="54.2" textLength="15.1" lengthAdjust="spacingAndGlyphs">i</tspan><tspan x="1397.6" font-size="52.5" textLength="27.3" lengthAdjust="spacingAndGlyphs">n</tspan><tspan x="1425" font-size="52.5" textLength="27" lengthAdjust="spacingAndGlyphs">g</tspan></text>
<path shape-rendering="crispEdges" d="M521 972h951v206h-951z M523 974v201h946v-201z" fill-rule="evenodd"/>
<text y="1306.6" font-size="52" stroke="#fff" stroke-width="0.9" filter="url(#bin)"><tspan x="234.6" font-size="53.8" textLength="24.4" lengthAdjust="spacingAndGlyphs">0</tspan></text>
<text y="1306.6" font-size="52" stroke="#fff" stroke-width="0.9" filter="url(#bin)"><tspan x="344" font-size="53.8" textLength="24.1" lengthAdjust="spacingAndGlyphs">3</tspan><tspan x="369" font-size="53.8" textLength="24.4" lengthAdjust="spacingAndGlyphs">0</tspan></text>
<text y="1306.6" font-size="52" stroke="#fff" stroke-width="0.9" filter="url(#bin)"><tspan x="465.6" font-size="53.8" textLength="24.5" lengthAdjust="spacingAndGlyphs">6</tspan><tspan x="491" font-size="53.8" textLength="24.4" lengthAdjust="spacingAndGlyphs">0</tspan></text>
<text y="1306.6" font-size="52" stroke="#fff" stroke-width="0.9" filter="url(#bin)"><tspan x="588" font-size="53.8" textLength="24.5" lengthAdjust="spacingAndGlyphs">9</tspan><tspan x="612.9" font-size="53.8" textLength="24.4" lengthAdjust="spacingAndGlyphs">0</tspan></text>
<text y="1306.6" font-size="52" stroke="#fff" stroke-width="0.9" filter="url(#bin)"><tspan x="697.9" font-size="53.8" textLength="21.9" lengthAdjust="spacingAndGlyphs">1</tspan><tspan x="721.7" font-size="53.8" textLength="26.1" lengthAdjust="spacingAndGlyphs">2</tspan><tspan x="747.3" font-size="53.8" textLength="24.4" lengthAdjust="spacingAndGlyphs">0</tspan></text>
<text y="1306.6" font-size="52" stroke="#fff" stroke-width="0.9" filter="url(#bin)"><tspan x="819.8" font-size="53.8" textLength="21.9" lengthAdjust="spacingAndGlyphs">1</tspan><tspan x="843.7" font-size="53.8" textLength="24.4" lengthAdjust="spacingAndGlyphs">5</tspan><tspan x="869.2" font-size="53.8" textLength="24.4" lengthAdjust="spacingAndGlyphs">0</tspan></text>
<text y="1306.6" font-size="52" stroke="#fff" stroke-width="0.9" filter="url(#bin)"><tspan x="941.8" font-size="53.8" textLength="21.9" lengthAdjust="spacingAndGlyphs">1</tspan><tspan x="966" font-size="53.8" textLength="24.7" lengthAdjust="spacingAndGlyphs">8</tspan><tspan x="991.1" font-size="53.8" textLength="24.4" lengthAdjust="spacingAndGlyphs">0</tspan></text>
<text y="1306.6" font-size="52" stroke="#fff" stroke-width="0.9" filter="url(#bin)"><tspan x="1062.5" font-size="53.8" textLength="26.1" lengthAdjust="spacingAndGlyphs">2</tspan><tspan x="1088.7" font-size="53.8" textLength="21.9" lengthAdjust="spacingAndGlyphs">1</tspan><tspan x="1113" font-size="53.8" textLength="24.4" lengthAdjust="spacingAndGlyphs">0</tspan></text>
<text y="1306.6" font-size="52" stroke="#fff" stroke-width="0.9" filter="url(#bin)"><tspan x="1184.4" font-size="53.8" textLength="26.1" lengthAdjust="spacingAndGlyphs">2</tspan><tspan x="1210.3" font-size="53.8" textLength="23.6" lengthAdjust="spacingAndGlyphs">4</tspan><tspan x="1235" font-size="53.8" textLength="24.4" lengthAdjust="spacingAndGlyphs">0</tspan></text>
<text y="1306.6" font-size="52" stroke="#fff" stroke-width="0.9" filter="url(#bin)"><tspan x="1306.3" font-size="53.8" textLength="26.1" lengthAdjust="spacingAndGlyphs">2</tspan><tspan x="1330.2" font-size="53.8" textLength="25.8" lengthAdjust="spacingAndGlyphs">7</tspan><tspan x="1356.9" font-size="53.8" textLength="24.4" lengthAdjust="spacingAndGlyphs">0</tspan></text>
<text y="1306.6" font-size="52" stroke="#fff" stroke-width="0.9" filter="url(#bin)"><tspan x="1428.7" font-size="53.8" textLength="24.1" lengthAdjust="spacingAndGlyphs">3</tspan><tspan x="1453.8" font-size="53.8" textLength="24.4" lengthAdjust="spacingAndGlyphs">0</tspan><tspan x="1478.8" font-size="53.8" textLength="24.4" lengthAdjust="spacingAndGlyphs">0</tspan></text>
<text y="1306.6" font-size="52" stroke="#fff" stroke-width="0.9" filter="url(#bin)"><tspan x="1550.6" font-size="53.8" textLength="24.1" lengthAdjust="spacingAndGlyphs">3</tspan><tspan x="1575.6" font-size="53.8" textLength="24.1" lengthAdjust="spacingAndGlyphs">3</tspan><tspan x="1600.7" font-size="53.8" textLength="24.4" lengthAdjust="spacingAndGlyphs">0</tspan></text>
<text y="1306.6" font-size="52" stroke="#fff" stroke-width="0.9" filter="url(#bin)"><tspan x="1672.5" font-size="53.8" textLength="24.1" lengthAdjust="spacingAndGlyphs">3</tspan><tspan x="1697.2" font-size="53.8" textLength="24.5" lengthAdjust="spacingAndGlyphs">6</tspan><tspan x="1722.6" font-size="53.8" textLength="24.4" lengthAdjust="spacingAndGlyphs">0</tspan></text>
<text y="62.4" font-size="52" stroke="#fff" stroke-width="0.9" filter="url(#bin)"><tspan x="195.8" font-size="53.8" textLength="24.4" lengthAdjust="spacingAndGlyphs">5</tspan></text>
<text y="180.7" font-size="52" stroke="#fff" stroke-width="0.9" filter="url(#bin)"><tspan x="196.3" font-size="53.8" textLength="24.4" lengthAdjust="spacingAndGlyphs">0</tspan></text>
<text y="298.9" font-size="52" stroke="#fff" stroke-width="0.9" filter="url(#bin)"><tspan x="169.4" dy="-6.2" font-size="47.8" textLength="28.1" lengthAdjust="spacingAndGlyphs">-</tspan><tspan x="195.8" dy="6.2" font-size="53.8" textLength="24.4" lengthAdjust="spacingAndGlyphs">5</tspan></text>
<text y="417.1" font-size="52" stroke="#fff" stroke-width="0.9" filter="url(#bin)"><tspan x="144.4" dy="-6.2" font-size="47.8" textLength="28.1" lengthAdjust="spacingAndGlyphs">-</tspan><tspan x="172" dy="6.2" font-size="53.8" textLength="21.9" lengthAdjust="spacingAndGlyphs">1</tspan><tspan x="196.3" font-size="53.8" textLength="24.4" lengthAdjust="spacingAndGlyphs">0</tspan></text>
<text y="535.4" font-size="52" stroke="#fff" stroke-width="0.9" filter="url(#bin)"><tspan x="144.4" dy="-6.2" font-size="47.8" textLength="28.1" lengthAdjust="spacingAndGlyphs">-</tspan><tspan x="172" dy="6.2" font-size="53.8" textLength="21.9" lengthAdjust="spacingAndGlyphs">1</tspan><tspan x="195.8" font-size="53.8" textLength="24.4" lengthAdjust="spacingAndGlyphs">5</tspan></text>
<text y="653.6" font-size="52" stroke="#fff" stroke-width="0.9" filter="url(#bin)"><tspan x="144.4" dy="-6.2" font-size="47.8" textLength="28.1" lengthAdjust="spacingAndGlyphs">-</tspan><tspan x="170.8" dy="6.2" font-size="53.8" textLength="26.1" lengthAdjust="spacingAndGlyphs">2</tspan><tspan x="196.3" font-size="53.8" textLength="24.4" lengthAdjust="spacingAndGlyphs">0</tspan></text>
<text y="771.9" font-size="52" stroke="#fff" stroke-width="0.9" filter="url(#bin)"><tspan x="144.4" dy="-6.2" font-size="47.8" textLength="28.1" lengthAdjust="spacingAndGlyphs">-</tspan><tspan x="170.8" dy="6.2" font-size="53.8" textLength="26.1" lengthAdjust="spacingAndGlyphs">2</tspan><tspan x="195.8" font-size="53.8" textLength="24.4" lengthAdjust="spacingAndGlyphs">5</tspan></text>
<text y="890.1" font-size="52" stroke="#fff" stroke-width="0.9" filter="url(#bin)"><tspan x="144.4" dy="-6.2" font-size="47.8" textLength="28.1" lengthAdjust="spacingAndGlyphs">-</tspan><tspan x="171.2" dy="6.2" font-size="53.8" textLength="24.1" lengthAdjust="spacingAndGlyphs">3</tspan><tspan x="196.3" font-size="53.8" textLength="24.4" lengthAdjust="spacingAndGlyphs">0</tspan></text>
<text y="1008.4" font-size="52" stroke="#fff" stroke-width="0.9" filter="url(#bin)"><tspan x="144.4" dy="-6.2" font-size="47.8" textLength="28.1" lengthAdjust="spacingAndGlyphs">-</tspan><tspan x="171.2" dy="6.2" font-size="53.8" textLength="24.1" lengthAdjust="spacingAndGlyphs">3</tspan><tspan x="195.8" font-size="53.8" textLength="24.4" lengthAdjust="spacingAndGlyphs">5</tspan></text>
<text y="1126.7" font-size="52" stroke="#fff" stroke-width="0.9" filter="url(#bin)"><tspan x="144.4" dy="-6.2" font-size="47.8" textLength="28.1" lengthAdjust="spacingAndGlyphs">-</tspan><tspan x="171.6" dy="6.2" font-size="53.8" textLength="23.6" lengthAdjust="spacingAndGlyphs">4</tspan><tspan x="196.3" font-size="53.8" textLength="24.4" lengthAdjust="spacingAndGlyphs">0</tspan></text>
<text y="1244.9" font-size="52" stroke="#fff" stroke-width="0.9" filter="url(#bin)"><tspan x="144.4" dy="-6.2" font-size="47.8" textLength="28.1" lengthAdjust="spacingAndGlyphs">-</tspan><tspan x="171.6" dy="6.2" font-size="53.8" textLength="23.6" lengthAdjust="spacingAndGlyphs">4</tspan><tspan x="195.8" font-size="53.8" textLength="24.4" lengthAdjust="spacingAndGlyphs">5</tspan></text>
<text y="1387.4" font-size="62.6" stroke="#fff" stroke-width="0.9" filter="url(#bin)"><tspan x="807.3" textLength="32" lengthAdjust="spacingAndGlyphs">P</tspan><tspan x="838.9" font-size="60.4" textLength="30" lengthAdjust="spacingAndGlyphs">h</tspan><tspan x="876.2" font-size="60.4" textLength="16.8" lengthAdjust="spacingAndGlyphs">i</tspan><tspan x="910.3" dy="-5.9" textLength="20.4" lengthAdjust="spacingAndGlyphs">(</tspan><tspan x="930.1" dy="5.9" font-size="60.4" textLength="31" lengthAdjust="spacingAndGlyphs">d</tspan><tspan x="963.6" font-size="58.5" textLength="27" lengthAdjust="spacingAndGlyphs">e</tspan><tspan x="992.4" font-size="58.5" textLength="29.9" lengthAdjust="spacingAndGlyphs">g</tspan><tspan x="1027" font-size="58.5" textLength="23" lengthAdjust="spacingAndGlyphs">r</tspan><tspan x="1056.1" font-size="58.5" textLength="27" lengthAdjust="spacingAndGlyphs">e</tspan><tspan x="1086.9" font-size="58.5" textLength="27" lengthAdjust="spacingAndGlyphs">e</tspan><tspan x="1116.9" dy="-5.9" textLength="20.4" lengthAdjust="spacingAndGlyphs">)</tspan></text>
<g transform="translate(72.7 757.1) rotate(-90)"><text y="0" font-size="62.6" stroke="#fff" stroke-width="0.9" filter="url(#bin)"><tspan x="-0.4" textLength="31.2" lengthAdjust="spacingAndGlyphs">G</tspan><tspan x="31.7" font-size="58.5" textLength="30.1" lengthAdjust="spacingAndGlyphs">a</tspan><tspan x="68.6" font-size="60.4" textLength="16.8" lengthAdjust="spacingAndGlyphs">i</tspan><tspan x="92.5" font-size="58.5" textLength="30.4" lengthAdjust="spacingAndGlyphs">n</tspan><tspan x="133.5" dy="-5.9" textLength="20.4" lengthAdjust="spacingAndGlyphs">(</tspan><tspan x="153.4" dy="5.9" font-size="60.4" textLength="31" lengthAdjust="spacingAndGlyphs">d</tspan><tspan x="185.4" textLength="31" lengthAdjust="spacingAndGlyphs">B</tspan><tspan x="216.8" dy="-5.9" textLength="20.4" lengthAdjust="spacingAndGlyphs">)</tspan></text></g>
</svg>
</body>
</html>
